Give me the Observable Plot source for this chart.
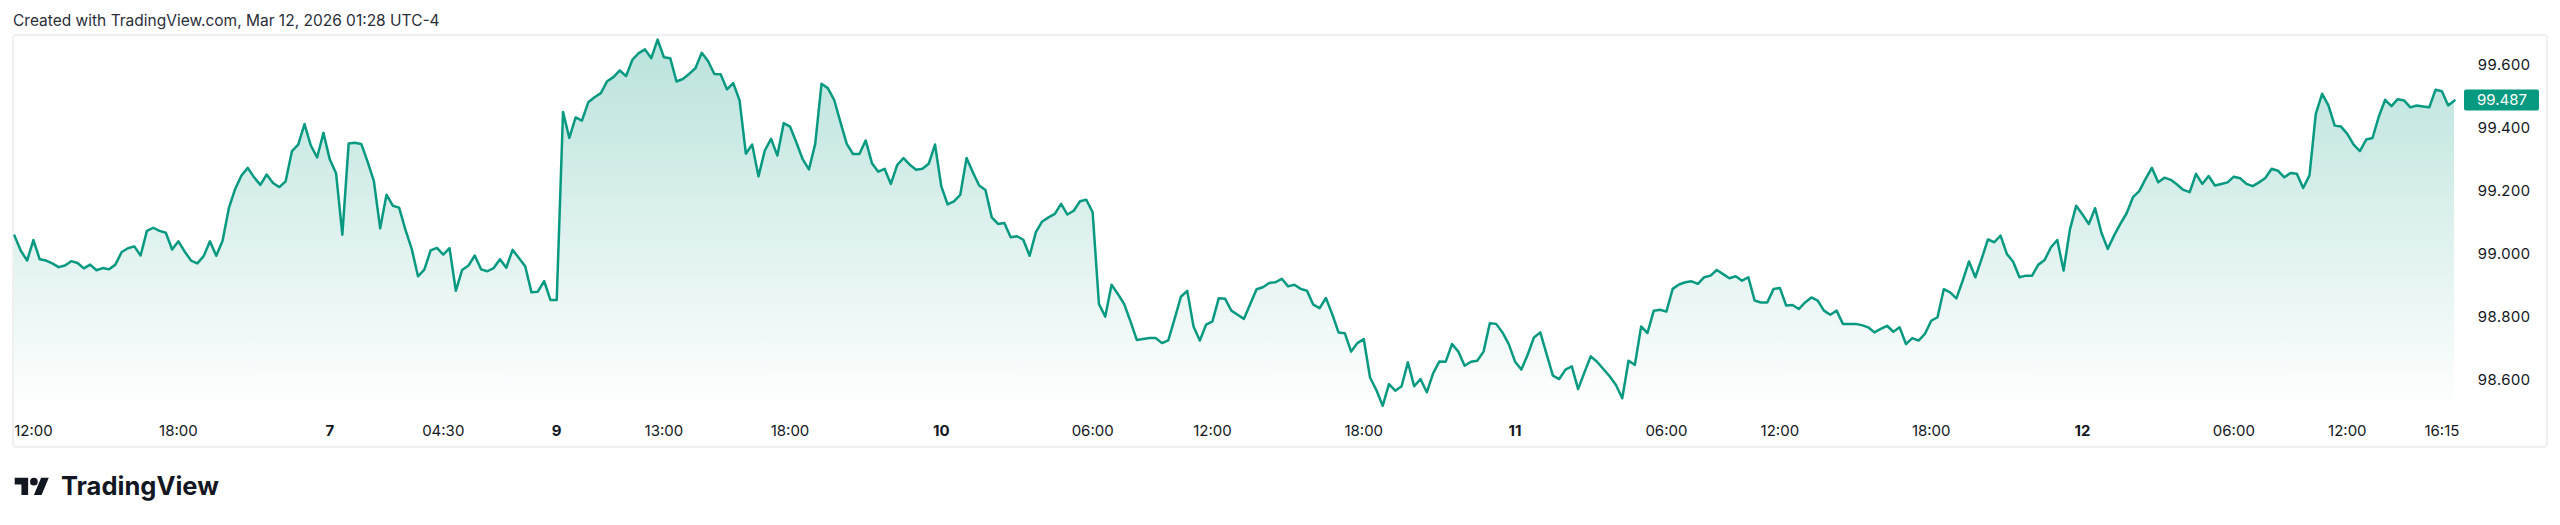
<!DOCTYPE html>
<html><head><meta charset="utf-8">
<script src="https://cdn.jsdelivr.net/npm/d3@7"></script>
<script src="https://cdn.jsdelivr.net/npm/@observablehq/plot@0.6"></script>
<style>
html,body{margin:0;padding:0;background:#fff;}
body{width:2560px;height:525px;position:relative;overflow:hidden;font-family:Inter,"Noto Sans",sans-serif;color:#131722;}
#title{position:absolute;left:13px;top:11px;font-size:15.5px;line-height:19px;white-space:nowrap;color:#2a2e39;}
#frame{position:absolute;left:12px;top:34px;width:2536px;height:414px;border:2px solid #f0f0f0;border-radius:4px;box-sizing:border-box;}
#chart{position:absolute;left:13px;top:35px;}
#logo{position:absolute;left:0;top:468px;}
</style></head>
<body>
<div id="title">Created with TradingView.com, Mar 12, 2026 01:28 UTC-4</div>
<div id="frame"></div>
<div id="chart"></div>
<svg id="logo" width="260" height="40" viewBox="0 0 260 40">
  <g transform="translate(14.7,6) scale(0.96)" fill="#131722">
    <path d="M14 22H7V11H0V4h14v18zM28 22h-8l7.5-18h8L28 22z"></path>
    <circle cx="20" cy="8" r="4"></circle>
  </g>
  <text x="61" y="27" font-family="Inter, sans-serif" font-weight="700" font-size="25.5" fill="#131722">TradingView</text>
</svg>
<script>
// Price series: one value per bar (15-min bars, gaps removed as on the chart)
const prices = [
99.058, 99.010, 98.979, 99.044, 98.983, 98.979, 98.970, 98.958, 98.963, 98.977,
98.971, 98.954, 98.966, 98.948, 98.955, 98.951, 98.966, 99.006, 99.018, 99.024,
98.995, 99.073, 99.083, 99.073, 99.067, 99.014, 99.040, 99.007, 98.979, 98.970,
98.993, 99.040, 98.994, 99.042, 99.145, 99.206, 99.249, 99.273, 99.243, 99.219,
99.252, 99.225, 99.212, 99.230, 99.326, 99.347, 99.412, 99.344, 99.306, 99.384,
99.300, 99.256, 99.061, 99.350, 99.353, 99.349, 99.293, 99.231, 99.081, 99.188,
99.153, 99.147, 99.077, 99.016, 98.929, 98.950, 99.011, 99.019,
98.998, 99.018, 98.883, 98.949, 98.963, 98.995, 98.951, 98.945, 98.955, 98.983,
98.956, 99.013, 98.987, 98.961, 98.878, 98.880, 98.914, 98.854, 98.854, 99.450,
99.368, 99.433, 99.423, 99.481, 99.497, 99.510, 99.548, 99.561, 99.582, 99.564,
99.616, 99.637, 99.649, 99.621, 99.680, 99.624, 99.621, 99.547, 99.555, 99.571,
99.589, 99.638, 99.612, 99.571, 99.570, 99.522, 99.542, 99.487, 99.318, 99.347,
99.246, 99.328, 99.365, 99.312, 99.415, 99.404, 99.354, 99.301, 99.268, 99.349,
99.540, 99.526, 99.489, 99.418, 99.349, 99.317, 99.317,
99.360, 99.288, 99.261, 99.270, 99.222, 99.282, 99.304, 99.283, 99.267, 99.270,
99.286, 99.347, 99.214, 99.157, 99.167, 99.187, 99.304, 99.259, 99.217, 99.203,
99.116, 99.095, 99.098, 99.053, 99.056, 99.045, 98.994, 99.069, 99.103, 99.116,
99.127, 99.159, 99.125, 99.137, 99.167, 99.172, 99.132, 98.841, 98.801, 98.902,
98.873, 98.841, 98.786, 98.727, 98.730, 98.733, 98.733, 98.717, 98.726, 98.794,
98.864, 98.883, 98.770, 98.725, 98.776, 98.786, 98.859, 98.858, 98.820, 98.807,
98.794, 98.841, 98.888, 98.894, 98.908, 98.910,
98.921, 98.897, 98.902, 98.889, 98.883, 98.839, 98.828, 98.860, 98.809, 98.751,
98.748, 98.690, 98.717, 98.730, 98.608, 98.568, 98.518, 98.587, 98.566, 98.580,
98.656, 98.580, 98.603, 98.561, 98.621, 98.659, 98.658, 98.714, 98.690, 98.645,
98.658, 98.661, 98.690, 98.780, 98.778, 98.751, 98.714, 98.658, 98.633, 98.680,
98.735, 98.751, 98.682, 98.614, 98.603, 98.633, 98.643, 98.571, 98.624, 98.675,
98.658, 98.635, 98.612, 98.584, 98.542, 98.661, 98.648, 98.770, 98.749, 98.820,
98.823, 98.817, 98.889, 98.903, 98.910, 98.913, 98.905,
98.926, 98.931, 98.949, 98.936, 98.923, 98.929, 98.915, 98.926, 98.852, 98.846,
98.846, 98.889, 98.892, 98.836, 98.838, 98.825, 98.846, 98.862, 98.852, 98.820,
98.807, 98.820, 98.778, 98.778, 98.778, 98.774, 98.767, 98.751, 98.762, 98.772,
98.753, 98.767, 98.714, 98.733, 98.725, 98.746, 98.788, 98.799, 98.888, 98.878,
98.859, 98.915, 98.976, 98.926, 98.984, 99.046, 99.037, 99.058, 99.000, 98.975,
98.926, 98.931, 98.931, 98.966, 98.981, 99.021, 99.044, 98.947, 99.077, 99.153,
99.125, 99.095, 99.145, 99.067, 99.016, 99.058,
99.095, 99.129, 99.180, 99.199, 99.238, 99.273, 99.227, 99.242, 99.235, 99.220,
99.203, 99.196, 99.254, 99.222, 99.247, 99.217, 99.222, 99.227, 99.245, 99.240,
99.222, 99.215, 99.227, 99.241, 99.270, 99.264, 99.243, 99.257, 99.254, 99.209,
99.249, 99.444, 99.508, 99.471, 99.407, 99.404, 99.381, 99.347, 99.326, 99.363,
99.368, 99.436, 99.489, 99.469, 99.491, 99.487, 99.465, 99.471, 99.468, 99.465,
99.521, 99.516, 99.471, 99.487
];

// Time-axis ticks: bar index and label
const tickBars = [3, 26, 50, 68, 86, 103, 123, 147, 171, 190, 214, 238, 262, 280, 304, 328, 352, 370, 385];
const tickLabels = ["12:00", "18:00", "7", "04:30", "9", "13:00", "18:00", "10", "06:00", "12:00", "18:00", "11", "06:00", "12:00", "18:00", "12", "06:00", "12:00", "16:15"];

// Price-axis ticks
const priceTicks = [98.6, 98.8, 99.0, 99.2, 99.4, 99.6];
const priceBase = 98.5;
const lastPrice = prices[prices.length - 1];

const series = prices.map((p, i) => ({bar: i, price: p}));
const ticks = tickBars.map((b, i) => ({bar: b, label: tickLabels[i], day: !tickLabels[i].includes(":")}));

const fmt = d3.format(".3f");
const chart = Plot.plot({
  width: 2534,
  height: 412,
  marginLeft: 1,
  marginRight: 93,
  marginTop: 0,
  marginBottom: 36,
  style: {fontFamily: "Inter, sans-serif", fontSize: "15px", color: "#131722", background: "transparent", overflow: "visible"},
  x: {type: "linear", domain: [0, prices.length - 1], axis: null},
  y: {domain: [priceBase, 99.6], range: [376, 29.3], axis: "right", ticks: priceTicks, tickFormat: fmt, tickSize: 0, tickPadding: 23, label: null},
  marks: [
    Plot.areaY(series, {x: "bar", y1: () => priceBase, y2: "price", fill: "url(#tvgrad)", curve: "linear"}),
    Plot.lineY(series, {x: "bar", y: "price", stroke: "#089981", strokeWidth: 2.5, strokeLinejoin: "round", curve: "linear"}),
    Plot.text(ticks.filter(d => !d.day), {x: "bar", text: "label", frameAnchor: "bottom", dy: 20, lineAnchor: "middle", fill: "#131722", fontSize: 15}),
    Plot.text(ticks.filter(d => d.day), {x: "bar", text: "label", frameAnchor: "bottom", dy: 20, lineAnchor: "middle", fill: "#131722", fontSize: 15, fontWeight: 700})
  ]
});

const svg = d3.select(chart);
const grad = svg.insert("defs", ":first-child").append("linearGradient")
  .attr("id", "tvgrad").attr("x1", 0).attr("x2", 0).attr("y1", 0).attr("y2", 1);
grad.append("stop").attr("offset", "0%").attr("stop-color", "#089981").attr("stop-opacity", 0.28);
grad.append("stop").attr("offset", "100%").attr("stop-color", "#089981").attr("stop-opacity", 0);

// Last-price tag on the price axis
const yS = chart.scale("y");
const xS = chart.scale("x");
const yLast = yS.apply(lastPrice);
const xEnd = xS.range[1];
const tag = svg.append("g");
tag.append("rect").attr("x", xEnd + 10).attr("y", yLast - 10.5).attr("width", 75).attr("height", 21).attr("rx", 2).attr("fill", "#089981");
tag.append("text").attr("x", xEnd + 23).attr("y", yLast).attr("dy", "0.35em").attr("text-anchor", "start").attr("fill", "#ffffff")
  .attr("font-size", 15).attr("font-family", "Inter, sans-serif").text(fmt(lastPrice));

document.getElementById("chart").appendChild(chart);
</script>
</body></html>
